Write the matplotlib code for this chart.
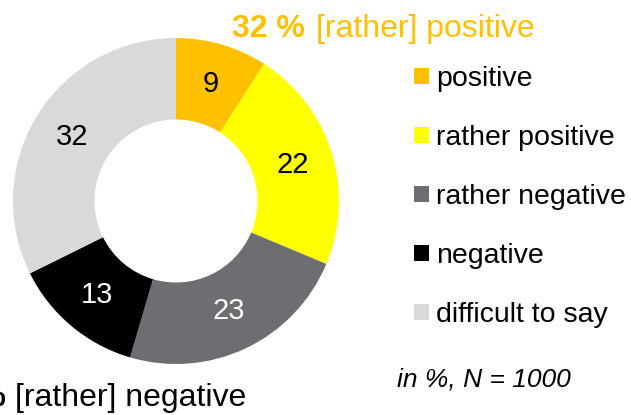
import matplotlib.pyplot as plt
import numpy as np
from matplotlib.patches import Patch

plt.rcParams['font.family'] = ['Liberation Sans', 'DejaVu Sans']

# data
categories = ["positive", "rather positive", "rather negative", "negative", "difficult to say"]
values = [9, 22, 23, 13, 32]
colors = ["#FFC000", "#FFFF00", "#6D6E71", "#000000", "#D9D9D9"]
label_colors = ["black", "black", "white", "white", "black"]
pos_total = "32 %"
neg_total = "36 %"
note = "in %, N = 1000"

W, H = 631, 415
fig = plt.figure(figsize=(W / 100, H / 100), dpi=100)

# donut axes (square in pixels)
cx, cy, R = 176, 201, 163
ax = fig.add_axes([(cx - R) / W, (H - cy - R) / H, 2 * R / W, 2 * R / H])
wedges, _ = ax.pie(values, colors=colors, startangle=90, counterclock=False,
                   radius=1.0, wedgeprops=dict(width=0.5, linewidth=0))
ax.set_xlim(-1, 1)
ax.set_ylim(-1, 1)
ax.set_aspect('equal')
ax.axis('off')

for w, v, c in zip(wedges, values, label_colors):
    ang = np.deg2rad((w.theta1 + w.theta2) / 2)
    ax.text(0.75 * np.cos(ang), 0.75 * np.sin(ang), str(v), ha='center', va='center',
            fontsize=21, color=c)

# headline texts
fig.text(305 / W, 1 - 37 / H, pos_total, ha='right', va='baseline', fontsize=23,
         fontweight='bold', color="#FFC000")
fig.text(316 / W, 1 - 37 / H, "[rather] positive", ha='left', va='baseline', fontsize=23,
         color="#FFC000")
fig.text(6 / W, 1 - 406 / H, neg_total, ha='right', va='baseline', fontsize=23,
         fontweight='bold', color="black")
fig.text(15 / W, 1 - 406 / H, "[rather] negative", ha='left', va='baseline', fontsize=23,
         color="black")

handles = [Patch(facecolor=c, edgecolor='none') for c in colors]
fig.legend(handles, categories, loc='upper left', bbox_to_anchor=(414 / W, 1 - 66 / H),
           frameon=False, fontsize=20.5, handlelength=0.52, handleheight=0.52,
           handletextpad=0.25, labelspacing=1.16, borderaxespad=0, borderpad=0)

fig.text(397 / W, 1 - 380 / H, note, ha='left', va='center', fontsize=19, style='italic')

fig.savefig("out.png", dpi=100)
